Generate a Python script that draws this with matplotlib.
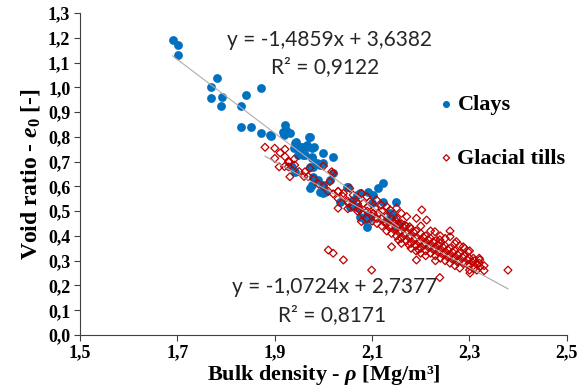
import numpy as np
import matplotlib.pyplot as plt
from matplotlib.ticker import FuncFormatter, FixedLocator, MultipleLocator

# ---- data ----
clay_rho = [1.690, 1.702, 1.702, 1.781, 1.770, 1.770, 1.791, 1.790, 1.841, 1.871,
            1.830, 1.830, 1.851, 1.871, 1.892, 1.921, 1.923, 1.919, 1.943, 1.939,
            1.952, 1.971, 1.966, 1.980, 1.959, 1.976, 2.000, 2.020, 1.986, 1.972,
            1.941, 1.979, 1.976, 2.000, 2.000, 2.020, 2.048, 2.034, 2.075, 2.092,
            2.099, 2.068, 1.890, 1.917, 1.931, 1.941, 1.955, 1.966, 1.976, 1.972,
            1.948, 1.962, 1.976, 2.000, 1.935, 1.979, 1.993, 1.989, 1.972, 1.993,
            2.003, 2.013, 2.051, 2.068, 2.061, 2.054, 2.071, 2.102, 2.113, 2.123,
            2.123, 2.150, 2.089, 2.075, 2.085, 2.095, 2.137, 2.143, 2.133, 2.089,
            2.150, 2.154]
clay_e0 = [1.191, 1.171, 1.130, 1.039, 1.000, 0.956, 0.962, 0.926, 0.969, 0.996,
           0.926, 0.839, 0.839, 0.817, 0.803, 0.848, 0.828, 0.807, 0.780, 0.754,
           0.760, 0.798, 0.760, 0.760, 0.727, 0.720, 0.736, 0.720, 0.693, 0.679,
           0.659, 0.639, 0.606, 0.606, 0.572, 0.653, 0.599, 0.538, 0.572, 0.579,
           0.532, 0.518, 0.807, 0.821, 0.814, 0.774, 0.760, 0.767, 0.754, 0.801,
           0.727, 0.727, 0.713, 0.693, 0.679, 0.679, 0.686, 0.626, 0.592, 0.579,
           0.579, 0.626, 0.599, 0.565, 0.545, 0.518, 0.512, 0.565, 0.592, 0.612,
           0.538, 0.538, 0.484, 0.478, 0.464, 0.471, 0.491, 0.484, 0.464, 0.437,
           0.437, 0.451]

till_rho = [1.880, 1.900, 1.921, 1.900, 1.921, 1.909, 1.928, 1.941, 1.931, 1.962,
            1.969, 2.000, 2.020, 2.013, 2.041, 2.054, 2.061, 2.078, 2.051, 2.030,
            2.075, 2.092, 2.102, 1.911, 1.928, 1.972, 2.017, 2.030, 2.068, 2.089,
            2.095, 2.082, 2.109, 2.119, 2.130, 2.106, 2.113, 2.137, 2.078, 2.150,
            2.160, 2.150, 2.171, 2.167, 2.177, 2.202, 2.191, 2.212, 2.229, 2.239,
            2.260, 2.140, 2.154, 2.010, 2.020, 2.041, 2.099, 2.191, 2.239, 2.273,
            2.287, 2.297, 2.308, 2.321, 2.300, 2.321, 2.379, 2.297, 2.315, 2.301,
            2.00, 2.01, 2.02, 2.03, 2.04, 2.05, 2.05, 2.06, 2.07, 2.08,
            2.09, 2.10, 2.10, 2.11, 2.11, 2.12, 2.09, 2.07, 2.03, 1.99,
            1.98, 1.95, 1.96, 1.93, 1.92, 1.94, 2.12, 2.12, 2.13, 2.13,
            2.13, 2.14, 2.14, 2.14, 2.15, 2.15, 2.15, 2.16, 2.16, 2.16,
            2.16, 2.17, 2.17, 2.17, 2.18, 2.18, 2.18, 2.18, 2.19, 2.19,
            2.19, 2.19, 2.20, 2.20, 2.20, 2.20, 2.20, 2.21, 2.21, 2.21,
            2.21, 2.22, 2.22, 2.22, 2.22, 2.23, 2.23, 2.23, 2.23, 2.24,
            2.24, 2.24, 2.24, 2.25, 2.25, 2.25, 2.25, 2.26, 2.26, 2.26,
            2.26, 2.27, 2.27, 2.27, 2.27, 2.28, 2.28, 2.28, 2.28, 2.29,
            2.29, 2.29, 2.30, 2.30, 2.30, 2.31, 2.31, 2.32, 2.32, 2.33,
            2.33, 2.125, 2.135, 2.145, 2.145, 2.155, 2.155, 2.165, 2.165, 2.175,
            2.175, 2.185, 2.185, 2.195, 2.195, 2.205, 2.205, 2.215, 2.215, 2.225,
            2.225, 2.235, 2.235, 2.245, 2.245, 2.255, 2.255, 2.265, 2.265, 2.275,
            2.275, 2.285, 2.295, 2.305, 2.315]
till_e0 = [0.758, 0.754, 0.750, 0.713, 0.720, 0.679, 0.679, 0.686, 0.639, 0.659,
           0.639, 0.682, 0.653, 0.619, 0.572, 0.592, 0.565, 0.572, 0.532, 0.512,
           0.505, 0.518, 0.491, 0.735, 0.700, 0.673, 0.659, 0.579, 0.538, 0.558,
           0.538, 0.532, 0.545, 0.525, 0.518, 0.512, 0.491, 0.505, 0.458, 0.512,
           0.491, 0.471, 0.478, 0.444, 0.437, 0.505, 0.471, 0.464, 0.417, 0.384,
           0.397, 0.356, 0.384, 0.343, 0.330, 0.303, 0.262, 0.303, 0.232, 0.377,
           0.356, 0.336, 0.310, 0.303, 0.262, 0.276, 0.262, 0.283, 0.262, 0.250,
           0.60, 0.58, 0.57, 0.55, 0.56, 0.54, 0.51, 0.52, 0.50, 0.49,
           0.50, 0.48, 0.46, 0.47, 0.45, 0.50, 0.47, 0.53, 0.58, 0.61,
           0.63, 0.66, 0.64, 0.70, 0.68, 0.71, 0.47, 0.44, 0.48, 0.45,
           0.42, 0.47, 0.44, 0.41, 0.46, 0.43, 0.40, 0.45, 0.42, 0.39,
           0.37, 0.44, 0.41, 0.38, 0.43, 0.40, 0.37, 0.35, 0.42, 0.39,
           0.36, 0.34, 0.41, 0.38, 0.35, 0.33, 0.44, 0.40, 0.37, 0.34,
           0.32, 0.39, 0.36, 0.33, 0.42, 0.38, 0.35, 0.32, 0.30, 0.37,
           0.34, 0.31, 0.40, 0.36, 0.33, 0.30, 0.39, 0.35, 0.32, 0.29,
           0.42, 0.34, 0.31, 0.37, 0.28, 0.33, 0.30, 0.36, 0.27, 0.32,
           0.29, 0.35, 0.31, 0.28, 0.34, 0.30, 0.27, 0.29, 0.31, 0.28,
           0.26, 0.455, 0.435, 0.455, 0.425, 0.415, 0.445, 0.405, 0.435, 0.395,
           0.365, 0.385, 0.415, 0.375, 0.345, 0.365, 0.395, 0.355, 0.385, 0.345,
           0.375, 0.335, 0.365, 0.325, 0.355, 0.315, 0.345, 0.305, 0.335, 0.295,
           0.325, 0.315, 0.305, 0.295, 0.285]

x_ticks = [1.5, 1.7, 1.9, 2.1, 2.3, 2.5]

# trendline coefficients as printed on the chart
clay_fit = (-1.4859, 3.6382, 0.9122)
till_fit = (-1.0724, 2.7377, 0.8171)

CLAY_C = '#0070C0'
TILL_C = '#C00000'

plt.rcParams['mathtext.fontset'] = 'custom'
plt.rcParams['mathtext.rm'] = 'Liberation Serif:bold'
plt.rcParams['mathtext.it'] = 'Liberation Serif:italic:bold'

def comma(v, pos):
    return f'{v:.1f}'.replace('.', ',')

def eq_text(k, b):
    s = f'y = {k:.4f}x + {b:.4f}'
    return s.replace('.', ',')

fig = plt.figure(figsize=(5.82, 3.91), dpi=100)
ax = fig.add_axes([0.1375, 0.1432, 0.8365, 0.8236])

ax.scatter(clay_rho, clay_e0, s=40, color=CLAY_C, linewidths=0, zorder=2, label='Clays')
ax.scatter(till_rho, till_e0, s=16, marker='D', facecolors='none', edgecolors=TILL_C,
           linewidths=0.9, zorder=3, label='Glacial tills')

# trendlines over the data range
for xs, (k, b, r2), col in [(clay_rho, clay_fit, '#b8aaaa'), (till_rho, till_fit, '#a6a6a6')]:
    xl = np.array([min(xs), max(xs)])
    ax.plot(xl, k * xl + b, color=col, lw=0.8, zorder=4)

eqfont = dict(family='Lato', fontsize=15, color='#262626', ha='center', va='center')
ax.text(0.513, 0.916, eq_text(clay_fit[0], clay_fit[1]), transform=ax.transAxes, **eqfont)
ax.text(0.503, 0.832, f'R² = {clay_fit[2]:.4f}'.replace('.', ','), transform=ax.transAxes, **eqfont)
ax.text(0.523, 0.149, eq_text(till_fit[0], till_fit[1]), transform=ax.transAxes, **eqfont)
ax.text(0.517, 0.062, f'R² = {till_fit[2]:.4f}'.replace('.', ','), transform=ax.transAxes, **eqfont)

ax.set_xlim(1.5, 2.5)
ax.set_ylim(0, 1.3)
ax.xaxis.set_major_locator(FixedLocator(x_ticks))
ax.yaxis.set_major_locator(MultipleLocator(0.1))
ax.xaxis.set_major_formatter(FuncFormatter(comma))
ax.yaxis.set_major_formatter(FuncFormatter(comma))

for side in ['top', 'right']:
    ax.spines[side].set_visible(False)
for side in ['left', 'bottom']:
    ax.spines[side].set_color('#404040')
    ax.spines[side].set_linewidth(0.8)
ax.tick_params(direction='out', length=4, width=0.8, color='#404040', pad=3)
for lab in ax.get_xticklabels() + ax.get_yticklabels():
    lab.set_fontfamily('Liberation Serif')
    lab.set_fontweight('bold')
    lab.set_fontsize(13)

ax.set_xlabel(r'Bulk density - $\rho$ [Mg/m³]', family='Liberation Serif',
              fontweight='bold', fontsize=16, labelpad=1)
ax.set_ylabel(r'Void ratio - $e_0$ [-]', family='Liberation Serif',
              fontweight='bold', fontsize=17, labelpad=4)

ax.legend(loc='center left', bbox_to_anchor=(0.70, 0.632), frameon=False,
          prop={'family': 'Liberation Serif', 'weight': 'bold', 'size': 16},
          handlelength=0.5, handletextpad=0.25, labelspacing=1.5,
          scatterpoints=1, markerscale=0.8)

fig.savefig('out.png', dpi=100)
